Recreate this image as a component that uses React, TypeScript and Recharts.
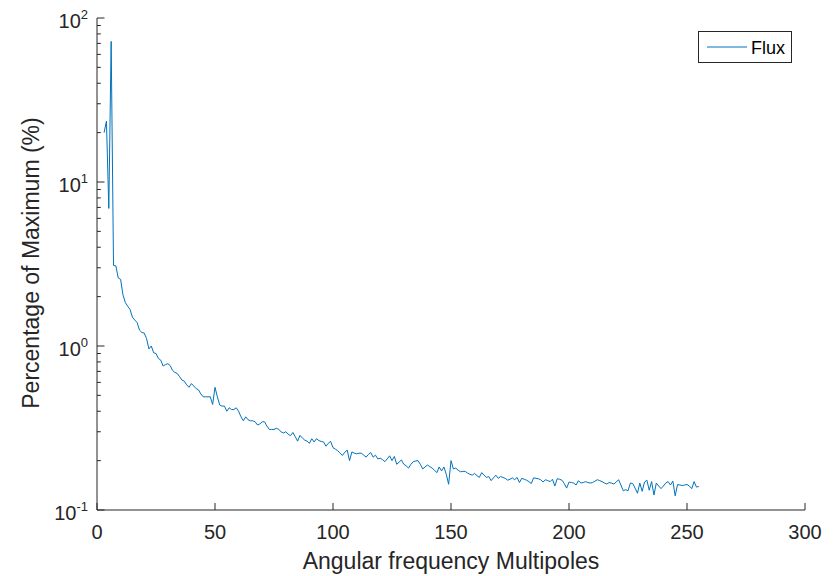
import React from 'react';
import { LineChart, Line, XAxis, YAxis, Customized } from 'recharts';

// first multipole shown, then one value per integer multipole (3..255)
const FIRST_MULTIPOLE = 3;
const FLUX_VALUES = [
  20, 23.5, 6.9, 72, 3.1, 3.08, 2.6, 2.55, 2.05, 1.84,
  1.75, 1.67, 1.5, 1.44, 1.39, 1.25, 1.21, 1.2, 1.11, 0.96,
  1.0, 0.91, 0.9, 0.84, 0.82, 0.755, 0.77, 0.78, 0.76, 0.71,
  0.69, 0.68, 0.65, 0.62, 0.61, 0.58, 0.56, 0.59, 0.57, 0.55,
  0.54, 0.51, 0.49, 0.49, 0.49, 0.49, 0.44, 0.56, 0.49, 0.437,
  0.43, 0.43, 0.4, 0.42, 0.41, 0.41, 0.42, 0.4, 0.37, 0.35,
  0.37, 0.355, 0.35, 0.35, 0.345, 0.33, 0.335, 0.345, 0.345, 0.325,
  0.31, 0.31, 0.31, 0.315, 0.31, 0.3, 0.295, 0.3, 0.29, 0.284,
  0.297, 0.28, 0.263, 0.285, 0.275, 0.267, 0.263, 0.255, 0.272, 0.26,
  0.272, 0.265, 0.262, 0.26, 0.245, 0.255, 0.262, 0.24, 0.235, 0.23,
  0.222, 0.215, 0.225, 0.232, 0.2, 0.226, 0.222, 0.22, 0.222, 0.222,
  0.216, 0.21, 0.218, 0.224, 0.21, 0.216, 0.205, 0.207, 0.203, 0.197,
  0.205, 0.214, 0.2, 0.212, 0.19, 0.196, 0.202, 0.19, 0.186, 0.18,
  0.19, 0.197, 0.199, 0.2, 0.19, 0.178, 0.183, 0.188, 0.184, 0.18,
  0.175, 0.169, 0.183, 0.173, 0.183, 0.165, 0.1435, 0.2, 0.178, 0.18,
  0.175, 0.171, 0.172, 0.172, 0.168, 0.165, 0.163, 0.167, 0.162, 0.158,
  0.169, 0.163, 0.158, 0.16, 0.151, 0.157, 0.163, 0.156, 0.16, 0.158,
  0.156, 0.152, 0.154, 0.157, 0.153, 0.158, 0.147, 0.156, 0.154, 0.152,
  0.149, 0.145, 0.157, 0.156, 0.155, 0.153, 0.148, 0.153, 0.151, 0.149,
  0.154, 0.14, 0.155, 0.154, 0.152, 0.145, 0.136, 0.148, 0.147, 0.146,
  0.142, 0.151, 0.146, 0.147, 0.149, 0.147, 0.146, 0.147, 0.15, 0.153,
  0.151, 0.149, 0.146, 0.144, 0.147, 0.146, 0.144, 0.148, 0.153, 0.142,
  0.131, 0.133, 0.131, 0.146, 0.145, 0.136, 0.1265, 0.146, 0.13, 0.148,
  0.152, 0.132, 0.149, 0.1234, 0.146, 0.14, 0.135, 0.14, 0.146, 0.149,
  0.142, 0.15, 0.122, 0.143, 0.142, 0.141, 0.142, 0.143, 0.14, 0.135,
  0.149, 0.138, 0.139,
];

const X_TICKS = [0, 50, 100, 150, 200, 250, 300];
const Y_TICKS = [
  0.1, 0.2, 0.3, 0.4, 0.5, 0.6, 0.7, 0.8, 0.9,
  1, 2, 3, 4, 5, 6, 7, 8, 9,
  10, 20, 30, 40, 50, 60, 70, 80, 90,
  100,
];
const Y_DECADES: Record<number, string> = { 0.1: '-1', 1: '0', 10: '1', 100: '2' };

const SERIES_NAME = 'Flux';
const X_LABEL = 'Angular frequency Multipoles';
const Y_LABEL = 'Percentage of Maximum (%)';

const data = FLUX_VALUES.map((v, i) => ({ multipole: FIRST_MULTIPOLE + i, flux: v }));

const AXIS_COLOR = '#262626';
const LINE_COLOR = '#0072BD';
const FONT = '"Liberation Sans", Arial, Helvetica, sans-serif';

const XTick = (props: any) => {
  const { x, y, payload } = props;
  return (
    <g>
      <line x1={x} y1={y} x2={x} y2={y - 7} stroke={AXIS_COLOR} strokeWidth={1} />
      <text x={x} y={y + 29} textAnchor="middle" fontSize={20} fill={AXIS_COLOR} fontFamily={FONT}>
        {payload.value}
      </text>
    </g>
  );
};

const YTick = (props: any) => {
  const { x, y, payload } = props;
  const exp = Y_DECADES[payload.value];
  const major = exp !== undefined;
  return (
    <g>
      <line x1={x} y1={y} x2={x + (major ? 7.5 : 3.8)} y2={y} stroke={AXIS_COLOR} strokeWidth={1} />
      {major && (
        <text x={x - 9} y={y + 10} textAnchor="end" fontSize={20} fill={AXIS_COLOR} fontFamily={FONT}>
          <tspan>10</tspan>
          <tspan dy={-9.5} fontSize={13}>{exp}</tspan>
        </text>
      )}
    </g>
  );
};

const LegendBox = () => (
  <g fontFamily={FONT}>
    <rect x={698.5} y={31.5} width={93} height={31} fill="#ffffff" stroke={AXIS_COLOR} strokeWidth={1} />
    <line x1={707} y1={47} x2={747} y2={47} stroke={LINE_COLOR} strokeWidth={1} />
    <text x={751} y={53.5} fontSize={18} fill="#000000">{SERIES_NAME}</text>
  </g>
);

const Titles = () => (
  <g fontFamily={FONT} fill={AXIS_COLOR}>
    <text x={451} y={569} textAnchor="middle" fontSize={23}>{X_LABEL}</text>
    <text x={39} y={263} textAnchor="middle" fontSize={23} transform="rotate(-90 39 263)">{Y_LABEL}</text>
  </g>
);

export default function App() {
  return (
    <div style={{ position: 'absolute', left: 0, top: 0, width: 837, height: 576, background: '#ffffff' }}>
      <LineChart width={837} height={576} data={data} margin={{ top: 18, right: 32, bottom: 0, left: 0 }}>
        <XAxis
          dataKey="multipole"
          type="number"
          domain={[0, 300]}
          ticks={X_TICKS}
          interval={0}
          height={66}
          tickSize={0}
          tickMargin={0}
          tickLine={false}
          axisLine={{ stroke: AXIS_COLOR, strokeWidth: 1 }}
          tick={<XTick />}
        />
        <YAxis
          type="number"
          scale="log"
          domain={[0.1, 100]}
          allowDataOverflow
          ticks={Y_TICKS}
          interval={0}
          width={97}
          tickSize={0}
          tickMargin={0}
          tickLine={false}
          axisLine={{ stroke: AXIS_COLOR, strokeWidth: 1 }}
          tick={<YTick />}
        />
        <Line
          type="linear"
          dataKey="flux"
          name={SERIES_NAME}
          stroke={LINE_COLOR}
          strokeWidth={1}
          dot={false}
          activeDot={false}
          isAnimationActive={false}
        />
        <Customized component={<LegendBox />} />
        <Customized component={<Titles />} />
      </LineChart>
    </div>
  );
}
